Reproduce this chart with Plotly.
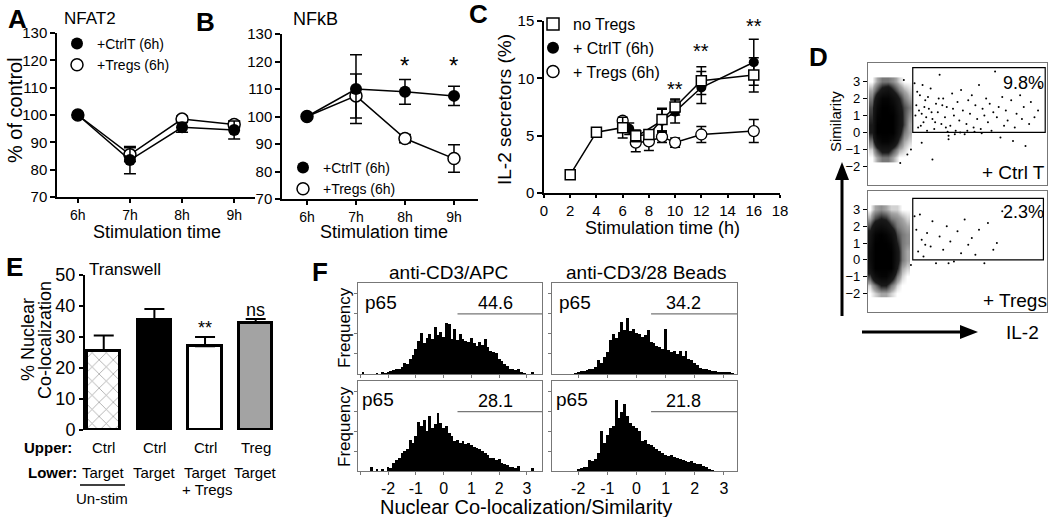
import plotly.graph_objects as go

W, H = 1050, 517
FONT = "Arial, 'Liberation Sans', sans-serif"

# ---------------- A: NFAT2 ----------------
times_ab = ["6h", "7h", "8h", "9h"]
a_ctrl = [100, 83.5, 95.5, 94.5]
a_ctrl_err = [0, 5, 1.8, 3.3]
a_treg = [100, 85.5, 98.5, 96.5]
a_treg_err = [0, 2.5, 1.0, 1.2]

# ---------------- B: NFkB ----------------
b_ctrl = [100, 110, 109, 107.5]
b_ctrl_err = [0, 12.5, 4.5, 3.5]
b_treg = [100, 107.5, 92, 84.7]
b_treg_err = [0, 8, 1.5, 5]
b_star_x = ["8h", "9h"]
b_star_y = [118.5, 118.5]

# ---------------- C: IL-2 secretors ----------------
c_none_x = [2, 4, 6, 7, 8, 9, 10, 12, 16]
c_none_y = [1.6, 5.3, 5.7, 5.0, 5.1, 6.4, 7.5, 9.8, 10.3]
c_none_err = [0.2, 0.4, 0.9, 0.5, 0.4, 1.0, 0.7, 1.2, 1.5]
c_ctrl_x = [6.5, 7, 9, 10, 12, 16]
c_ctrl_y = [5.6, 4.9, 6.3, 7.1, 9.2, 11.4]
c_ctrl_err = [0.5, 0.4, 1.0, 1.0, 1.4, 2.0]
c_treg_x = [6, 7, 8, 9, 10, 12, 16]
c_treg_y = [6.3, 4.4, 4.5, 4.9, 4.4, 5.1, 5.4]
c_treg_err = [0, 0.8, 0.8, 0.5, 0.4, 0.7, 1.0]
c_star_x = [10, 12, 16]
c_star_y = [9.1, 12.4, 14.6]

# ---------------- D: flow plots (density grid + sparse events) ----------------
d_top_hx = [2, 5, 8, 11, 14, 17, 20, 23]
d_top_hy = [-1.5, -1.0, -0.5, 0, 0.5, 1.0, 1.5, 2.0, 2.5, 3.0]
d_top_dens = [
    [0, 0.1, 0.2, 0.2, 0.1, 0, 0, 0],
    [0.05, 0.3, 0.5, 0.5, 0.3, 0.1, 0.05, 0],
    [0.2, 0.7, 0.9, 0.9, 0.7, 0.3, 0.1, 0.05],
    [0.4, 1, 1, 1, 1, 0.5, 0.2, 0.1],
    [0.4, 1, 1, 1, 1, 0.6, 0.3, 0.1],
    [0.35, 0.9, 1, 1, 1, 0.6, 0.3, 0.15],
    [0.3, 0.8, 1, 1, 0.9, 0.5, 0.3, 0.2],
    [0.2, 0.6, 0.9, 0.9, 0.7, 0.4, 0.2, 0.1],
    [0.1, 0.3, 0.5, 0.6, 0.4, 0.2, 0.1, 0.05],
    [0, 0.1, 0.2, 0.2, 0.15, 0.05, 0, 0],
]
d_bot_hx = [1, 4, 7, 10, 13, 16, 19, 22]
d_bot_hy = [-2.0, -1.5, -1.0, -0.5, 0, 0.5, 1.0, 1.5, 2.0, 2.5, 3.0]
d_bot_dens = [
    [0, 0.05, 0.1, 0.1, 0.05, 0, 0, 0],
    [0.05, 0.2, 0.4, 0.4, 0.2, 0.05, 0, 0],
    [0.3, 0.7, 0.9, 0.9, 0.6, 0.2, 0.05, 0],
    [0.6, 1, 1, 1, 1, 0.4, 0.1, 0.05],
    [0.7, 1, 1, 1, 1, 0.5, 0.2, 0.1],
    [0.7, 1, 1, 1, 1, 0.5, 0.2, 0.1],
    [0.6, 1, 1, 1, 0.9, 0.4, 0.2, 0.15],
    [0.5, 0.9, 1, 0.9, 0.7, 0.3, 0.2, 0.15],
    [0.3, 0.6, 0.7, 0.6, 0.4, 0.2, 0.15, 0.1],
    [0.1, 0.3, 0.4, 0.35, 0.2, 0.15, 0.1, 0.05],
    [0, 0.1, 0.15, 0.1, 0.05, 0.05, 0, 0],
]
d_top_ex = [27, 28, 29, 30, 31, 32, 33, 34, 35, 36, 37, 38, 39, 40, 41, 42, 43, 44, 45, 46,
            47, 48, 49, 50, 51, 52, 53, 54, 55, 56, 57, 58, 59, 60, 61, 62, 63, 64, 65, 66,
            67, 68, 69, 70, 71, 72, 73, 74, 75, 76, 77, 78, 80, 81, 82, 83, 85, 86, 87, 88,
            90, 91, 93, 95, 96, 24, 22, 30, 36, 18, 45, 26, 20,
            26.5, 27.5, 28.5, 29.5, 30.5, 31.5, 32.5, 33.5, 35.5, 37.5, 39.5, 41.5, 43.5,
            47.5, 51.5, 55.5, 59.5, 63.5, 44.5, 48.5]
d_top_ey = [1.6, 0.3, 2.2, 1.1, 0.6, 1.9, 0.1, 1.4, 2.6, 0.8, 0.2, 1.7, 1.2, 3.4, 0.5, 2.0, 0.9, 1.5, -0.2, 0.4,
            2.3, 1.0, 0.1, 1.8, 0.7, 2.5, 1.3, -0.1, 0.5, 1.9, 1.1, 2.2, 0.3, 1.6, 0.8, 2.8, 0.2, 1.4, 1.0, 2.0,
            0.6, 1.7, 0.1, 1.2, 3.6, 0.9, 1.5, -0.3, 2.1, 0.4, 1.3, 0.7, 1.9, -0.5, 0.3, 1.1, 2.2, 0.8, 1.5, -0.8,
            0.5, 1.8, 0.9, 1.3, 2.7, -1.0, -1.3, -0.6, -1.6, -1.8, -0.4, 2.9, 3.1,
            1.0, 2.4, 1.3, 0.4, 2.8, 1.5, 0.9, 2.1, 1.2, 0.6, 2.0, 1.6, 0.3,
            1.4, 0.0, 0.1, 0.05, -0.05, 0.05, -0.1]
d_bot_ex = [27, 28, 29, 30, 31, 33, 35, 36, 38, 40, 42, 44, 46, 48, 50, 52, 54, 56, 58, 60,
            62, 65, 67, 70, 72, 75, 24, 26, 32, 45]
d_bot_ey = [1.8, 0.5, 2.7, 1.2, 0.2, 1.6, 0.8, 2.3, -0.2, 1.4, 0.6, 2.0, 1.1, -0.1, 1.7, 0.4, 2.4, 0.9, 1.3, 0.3,
            1.8, -0.2, 2.2, 0.6, 1.0, 2.9, -0.3, 2.6, 0.9, -0.2]
d_gate_top = [25, 99, 0, 3.83]
d_gate_bot = [25, 98, 0, 3.66]

# ---------------- E: Transwell ----------------
e_groups = ["Un-stim", "Ctrl", "Ctrl + Tregs", "Treg"]
e_vals = [25.5, 35.5, 27, 34.5]
e_err = [5, 3.5, 3, 1.3]
e_upper = ["Ctrl", "Ctrl", "Ctrl", "Treg"]
e_lower = ["Target", "Target", "Target", "Target"]
e_marks = ["", "", "**", "ns"]

# ---------------- F: p65 histograms ----------------
f_bins = [round(-3.0 + 0.1 * i, 1) for i in range(64)]
f_apc_ctrl = [0, 2, 0, 0, 0, 0, 1, 0, 2, 1,
              2, 3, 4, 5, 6, 8, 12, 11, 16, 21,
              27, 36, 45, 34, 40, 44, 38, 52, 43, 46,
              41, 56, 55, 39, 49, 37, 44, 39, 36, 35,
              40, 34, 31, 35, 32, 39, 30, 25, 24, 23,
              17, 14, 11, 9, 6, 5, 4, 5, 2, 1,
              0, 0, 2, 0]
f_bead_ctrl = [0, 0, 0, 0, 0, 0, 0, 0, 0, 1,
               2, 3, 3, 4, 5, 6, 8, 15, 12, 19,
               24, 37, 44, 40, 46, 57, 48, 61, 47, 49,
               45, 44, 41, 43, 48, 35, 34, 31, 30, 27,
               49, 26, 24, 25, 22, 25, 20, 25, 17, 15,
               12, 10, 7, 6, 5, 4, 3, 3, 2, 2,
               2, 2, 2, 1]
f_apc_treg = [0, 0, 0, 0, 4, 0, 2, 0, 2, 0,
              4, 3, 9, 12, 15, 20, 22, 24, 35, 31,
              39, 55, 50, 57, 45, 61, 48, 52, 64, 53,
              48, 50, 42, 39, 33, 35, 31, 33, 30, 31,
              29, 27, 26, 24, 22, 20, 18, 15, 14, 12,
              13, 9, 8, 7, 5, 5, 3, 6, 0, 0,
              0, 0, 3, 0]
f_bead_treg = [0, 0, 0, 0, 0, 0, 0, 0, 0, 0,
               2, 3, 4, 5, 12, 11, 13, 20, 44, 31,
               40, 48, 50, 79, 59, 66, 74, 61, 53, 50,
               48, 44, 33, 35, 30, 29, 27, 24, 22, 20,
               18, 17, 18, 16, 15, 13, 12, 11, 10, 11,
               9, 8, 8, 6, 4, 2, 1, 0, 0, 0,
               0, 0, 0, 0]
f_pct = ["44.6", "34.2", "28.1", "21.8"]
f_gate_start = 0.5
f_gate_level = 66


def hx(a, b):
    return [a / W, b / W]


def vy(top, bot):
    return [1 - bot / H, 1 - top / H]


def line_ax(domain, anchor, **kw):
    d = dict(domain=domain, anchor=anchor, showgrid=False, zeroline=False, showline=True,
             linecolor="black", linewidth=1.5, ticks="outside", ticklen=5, tickwidth=1.5,
             tickcolor="black", tickfont=dict(size=15, family=FONT, color="black"))
    d.update(kw)
    return d


def box_ax(domain, anchor, **kw):
    d = dict(domain=domain, anchor=anchor, showgrid=False, zeroline=False, showline=True,
             mirror=True, linecolor="#777", linewidth=1.3, ticks="outside", ticklen=3,
             tickwidth=1, tickcolor="#777", tickfont=dict(size=16, family=FONT, color="black"))
    d.update(kw)
    return d


def txt(x, y, s, size, angle=0, xanchor="center", color="black"):
    return dict(x=x / W, y=1 - y / H, xref="paper", yref="paper", text=s, showarrow=False,
                font=dict(size=size, family=FONT, color=color), xanchor=xanchor,
                yanchor="middle", textangle=angle)


fig = go.Figure()
BLK = "black"


def err(arr, w=6):
    return dict(type="data", array=arr, color=BLK, thickness=1.5, width=w)


# A
fig.add_trace(go.Scatter(x=times_ab, y=a_treg, error_y=err(a_treg_err), mode="lines+markers",
                         line=dict(color=BLK, width=1.5),
                         marker=dict(color="white", size=12, line=dict(color=BLK, width=1.5)),
                         showlegend=False, xaxis="x", yaxis="y"))
fig.add_trace(go.Scatter(x=times_ab, y=a_ctrl, error_y=err(a_ctrl_err), mode="lines+markers",
                         line=dict(color=BLK, width=1.5), marker=dict(color=BLK, size=12),
                         showlegend=False, xaxis="x", yaxis="y"))
# B
fig.add_trace(go.Scatter(x=times_ab, y=b_treg, error_y=err(b_treg_err), mode="lines+markers",
                         line=dict(color=BLK, width=1.5),
                         marker=dict(color="white", size=12, line=dict(color=BLK, width=1.5)),
                         showlegend=False, xaxis="x2", yaxis="y2"))
fig.add_trace(go.Scatter(x=times_ab, y=b_ctrl, error_y=err(b_ctrl_err), mode="lines+markers",
                         line=dict(color=BLK, width=1.5), marker=dict(color=BLK, size=12),
                         showlegend=False, xaxis="x2", yaxis="y2"))
# C
fig.add_trace(go.Scatter(x=c_treg_x, y=c_treg_y, error_y=err(c_treg_err, 5), mode="lines+markers",
                         line=dict(color=BLK, width=1.5),
                         marker=dict(color="white", size=11, line=dict(color=BLK, width=1.3)),
                         showlegend=False, xaxis="x3", yaxis="y3"))
fig.add_trace(go.Scatter(x=c_ctrl_x, y=c_ctrl_y, error_y=err(c_ctrl_err, 5), mode="lines+markers",
                         line=dict(color=BLK, width=1.5), marker=dict(color=BLK, size=10),
                         showlegend=False, xaxis="x3", yaxis="y3"))
fig.add_trace(go.Scatter(x=c_none_x, y=c_none_y, error_y=err(c_none_err, 5), mode="lines+markers",
                         line=dict(color=BLK, width=1.5),
                         marker=dict(symbol="square", color="white", size=10, line=dict(color=BLK, width=1.5)),
                         showlegend=False, xaxis="x3", yaxis="y3"))

# legend entries
open_c = dict(color="white", size=12, line=dict(color=BLK, width=1.5))
fill_c = dict(color=BLK, size=12)
for lg, xa, ya in [("legend", "x", "y"), ("legend2", "x2", "y2")]:
    fig.add_trace(go.Scatter(x=[None], y=[None], mode="markers", marker=fill_c, name="+CtrlT (6h)",
                             legend=lg, xaxis=xa, yaxis=ya))
    fig.add_trace(go.Scatter(x=[None], y=[None], mode="markers", marker=open_c, name="+Tregs (6h)",
                             legend=lg, xaxis=xa, yaxis=ya))
fig.add_trace(go.Scatter(x=[None], y=[None], mode="markers", name="no Tregs", legend="legend3",
                         marker=dict(symbol="square", color="white", size=12, line=dict(color=BLK, width=1.5)),
                         xaxis="x3", yaxis="y3"))
fig.add_trace(go.Scatter(x=[None], y=[None], mode="markers", name="+ CtrlT (6h)", legend="legend3",
                         marker=fill_c, xaxis="x3", yaxis="y3"))
fig.add_trace(go.Scatter(x=[None], y=[None], mode="markers", name="+ Tregs (6h)", legend="legend3",
                         marker=open_c, xaxis="x3", yaxis="y3"))

# D
dens_scale = [[0, "rgba(0,0,0,0)"], [0.1, "rgba(0,0,0,0.35)"], [0.4, "rgba(0,0,0,0.9)"], [1, "rgba(0,0,0,1)"]]
for hxv, hyv, z, ex, ey, xa, ya in [
    (d_top_hx, d_top_hy, d_top_dens, d_top_ex, d_top_ey, "x4", "y4"),
    (d_bot_hx, d_bot_hy, d_bot_dens, d_bot_ex, d_bot_ey, "x5", "y5"),
]:
    fig.add_trace(go.Heatmap(x=hxv, y=hyv, z=z, colorscale=dens_scale, zmin=0, zmax=1,
                             zsmooth="best", showscale=False, hoverinfo="skip", xaxis=xa, yaxis=ya))
    fig.add_trace(go.Scatter(x=ex, y=ey, mode="markers", marker=dict(color=BLK, size=2),
                             showlegend=False, xaxis=xa, yaxis=ya))

# E
fig.add_trace(go.Bar(
    x=e_groups, y=e_vals, width=0.66,
    error_y=dict(type="data", array=e_err, arrayminus=[0] * len(e_err), symmetric=False,
                 color=BLK, thickness=2, width=10),
    marker=dict(color=["white", "black", "white", "#a3a3a3"], line=dict(color=BLK, width=3),
                pattern=dict(shape=["x", "", "", ""], fgcolor="#c4c4c4", bgcolor="white", size=10, solidity=0.15)),
    showlegend=False, xaxis="x6", yaxis="y6"))

# F
for vals, n in [(f_apc_ctrl, 7), (f_bead_ctrl, 8), (f_apc_treg, 9), (f_bead_treg, 10)]:
    fig.add_trace(go.Bar(x=f_bins, y=vals, width=0.1, marker=dict(color=BLK, line=dict(width=0)),
                         showlegend=False, xaxis=f"x{n}", yaxis=f"y{n}"))

layout = dict(
    width=W, height=H, margin=dict(l=0, r=0, t=0, b=0, autoexpand=False), autosize=False,
    paper_bgcolor="white", plot_bgcolor="white", font=dict(family=FONT, color="black"),
    bargap=0,
)
small = dict(size=14, family=FONT, color="black")
layout["xaxis"] = line_ax(hx(57, 255), "y", range=[-0.4, 3.4], type="category", ticklen=4, tickfont=small)
layout["yaxis"] = line_ax(vy(33, 197), "x", range=[70, 130], dtick=10)
layout["xaxis2"] = line_ax(hx(282, 478), "y2", range=[-0.51, 3.49], type="category", ticklen=4, tickfont=small)
layout["yaxis2"] = line_ax(vy(34, 199), "x2", range=[70, 130], dtick=10)
layout["xaxis3"] = line_ax(hx(544, 780), "y3", range=[0, 18], dtick=2, ticklen=3)
layout["yaxis3"] = line_ax(vy(21, 193), "x3", range=[0, 15], dtick=5)
dticks = dict(tickvals=[-2, -1, 0, 1, 2, 3], range=[-3.1, 4.1],
              tickfont=dict(size=13, family=FONT, color="black"), ticklen=4, tickcolor="black")
layout["xaxis4"] = box_ax(hx(868, 1047), "y4", range=[0, 100], showticklabels=False, ticks="")
layout["yaxis4"] = box_ax(vy(63, 185), "x4", **dticks)
layout["xaxis5"] = box_ax(hx(868, 1047), "y5", range=[0, 100], showticklabels=False, ticks="")
layout["yaxis5"] = box_ax(vy(191, 312), "x5", **dticks)
layout["xaxis6"] = dict(domain=hx(85, 280), anchor="y6", range=[-0.37, 3.48], type="category",
                        showline=False, showticklabels=False, ticks="", showgrid=False, zeroline=False)
layout["yaxis6"] = line_ax(vy(275, 430), "x6", range=[0, 50], dtick=10, linewidth=2, tickwidth=2,
                           ticklen=4, tickfont=dict(size=18, family=FONT, color="black"))
f_cols = {7: (358, 542, [-3.08, 3.54]), 8: (552, 737, [-2.9, 3.45]),
          9: (358, 542, [-3.08, 3.54]), 10: (552, 737, [-2.9, 3.45])}
f_rows = {7: (283, 374), 8: (283, 374), 9: (381, 471), 10: (381, 471)}
for n in range(7, 11):
    a, b, rng = f_cols[n]
    t, bt = f_rows[n]
    layout[f"xaxis{n}"] = box_ax(hx(a, b), f"y{n}", range=rng, tickvals=[-3, -2, -1, 0, 1, 2, 3],
                                 showticklabels=n >= 9, ticktext=["", "-2", "-1", "0", "1", "2", "3"])
    layout[f"yaxis{n}"] = box_ax(vy(t, bt), f"x{n}", range=[0, 100], tickvals=[22, 44, 66, 88],
                                 showticklabels=False)

leg = dict(xanchor="left", yanchor="top", bgcolor="rgba(0,0,0,0)", borderwidth=0,
           itemwidth=30, tracegroupgap=0, traceorder="normal")
layout["legend"] = dict(leg, x=57 / W, y=1 - 28 / H, font=dict(size=14, family=FONT, color=BLK))
layout["legend2"] = dict(leg, x=283 / W, y=1 - 152 / H, font=dict(size=14, family=FONT, color=BLK))
layout["legend3"] = dict(leg, x=533 / W, y=1 - 7 / H, font=dict(size=16, family=FONT, color=BLK))
fig.update_layout(**layout)

ann = [
    txt(17, 19, "<b>A</b>", 26), txt(205, 22, "<b>B</b>", 26), txt(478, 14, "<b>C</b>", 26),
    txt(818, 57, "<b>D</b>", 26), txt(14, 267, "<b>E</b>", 26), txt(320, 272, "<b>F</b>", 26),
    txt(62, 18, "NFAT2", 17, xanchor="left"), txt(291, 19, "NFkB", 18, xanchor="left"),
    txt(15, 110, "% of control", 20, angle=-90),
    txt(157, 232, "Stimulation time", 18), txt(384, 232, "Stimulation time", 18),
    txt(505, 110, "IL-2 secretors (%)", 19, angle=-90), txt(662, 228, "Stimulation time (h)", 18),
    txt(836, 122, "Similarity", 15, angle=-90),
    txt(1023, 83, "9.8%", 18), txt(1013, 172, "+ Ctrl T", 19),
    txt(1023, 212, "2.3%", 18), txt(1015, 300, "+ Tregs", 19), txt(1022, 332, "IL-2", 19),
    txt(125, 269, "Transwell", 17),
    txt(28, 340, "% Nuclear", 18, angle=-90), txt(45, 340, "Co-localization", 18, angle=-90),
    txt(48, 447, "<b>Upper:</b>", 15), txt(52, 472, "<b>Lower:</b>", 15),
    txt(102, 498, "Un-stim", 15), txt(207, 490, "+ Tregs", 15),
    txt(448, 272, "anti-CD3/APC", 19), txt(646, 272, "anti-CD3/28 Beads", 19),
    txt(344, 328, "Frequency", 17, angle=-90), txt(344, 427, "Frequency", 17, angle=-90),
    txt(526, 507, "Nuclear Co-localization/Similarity", 20),
]
for i in range(4):
    ann.append(dict(x=i, y=1 - 447 / H, xref="x6", yref="paper", text=e_upper[i], showarrow=False,
                    yanchor="middle", font=dict(size=15, family=FONT, color=BLK)))
    ann.append(dict(x=i, y=1 - 472 / H, xref="x6", yref="paper", text=e_lower[i], showarrow=False,
                    yanchor="middle", font=dict(size=15, family=FONT, color=BLK)))
    if e_marks[i]:
        ann.append(dict(x=i, y=e_vals[i] + e_err[i] + 3, xref="x6", yref="y6", text=e_marks[i],
                        showarrow=False, yanchor="middle", font=dict(size=18, family=FONT, color=BLK)))
for x, y in zip(b_star_x, b_star_y):
    ann.append(dict(x=x, y=y, xref="x2", yref="y2", text="*", showarrow=False,
                    font=dict(size=24, family=FONT, color=BLK)))
for x, y in zip(c_star_x, c_star_y):
    ann.append(dict(x=x, y=y, xref="x3", yref="y3", text="**", showarrow=False,
                    font=dict(size=20, family=FONT, color=BLK)))
p65_pos = {7: -2.25, 8: -2.1, 9: -2.35, 10: -2.2}
for k, n in enumerate(range(7, 11)):
    ann.append(dict(x=p65_pos[n], y=79, xref=f"x{n}", yref=f"y{n}", text="p65", showarrow=False,
                    font=dict(size=19, family=FONT, color=BLK)))
    ann.append(dict(x=1.85 if n in (7, 9) else 1.6, y=78, xref=f"x{n}", yref=f"y{n}", text=f_pct[k],
                    showarrow=False, font=dict(size=18, family=FONT, color=BLK)))

shapes = []
for n, g in [(4, d_gate_top), (5, d_gate_bot)]:
    shapes.append(dict(type="rect", xref=f"x{n}", yref=f"y{n}", x0=g[0], x1=g[1], y0=g[2], y1=g[3],
                       line=dict(color=BLK, width=1.2)))
for n in range(7, 11):
    rng = f_cols[n][2]
    shapes.append(dict(type="line", xref=f"x{n}", yref=f"y{n}", x0=f_gate_start, x1=rng[1],
                       y0=f_gate_level, y1=f_gate_level, line=dict(color="#777", width=1.2)))
# D axis arrows
shapes.append(dict(type="line", xref="paper", yref="paper", x0=842 / W, x1=842 / W,
                   y0=1 - 316 / H, y1=1 - 178 / H, line=dict(color=BLK, width=3)))
shapes.append(dict(type="path", xref="paper", yref="paper", fillcolor=BLK, line=dict(width=0),
                   path=f"M {835/W},{1-180/H} L {849/W},{1-180/H} L {842/W},{1-162/H} Z"))
shapes.append(dict(type="line", xref="paper", yref="paper", x0=862 / W, x1=962 / W,
                   y0=1 - 332 / H, y1=1 - 332 / H, line=dict(color=BLK, width=3)))
shapes.append(dict(type="path", xref="paper", yref="paper", fillcolor=BLK, line=dict(width=0),
                   path=f"M {960/W},{1-325/H} L {960/W},{1-339/H} L {978/W},{1-332/H} Z"))
# underline under the un-stimulated group in E
shapes.append(dict(type="line", xref="paper", yref="paper", x0=80 / W, x1=125 / W,
                   y0=1 - 485 / H, y1=1 - 485 / H, line=dict(color=BLK, width=1.5)))

fig.update_layout(annotations=ann, shapes=shapes)
# the page's default body margin would push the 1050x517 figure off the window
fig.write_html("out.html", config={"displayModeBar": False},
               post_script="document.body.style.margin='0px';")
